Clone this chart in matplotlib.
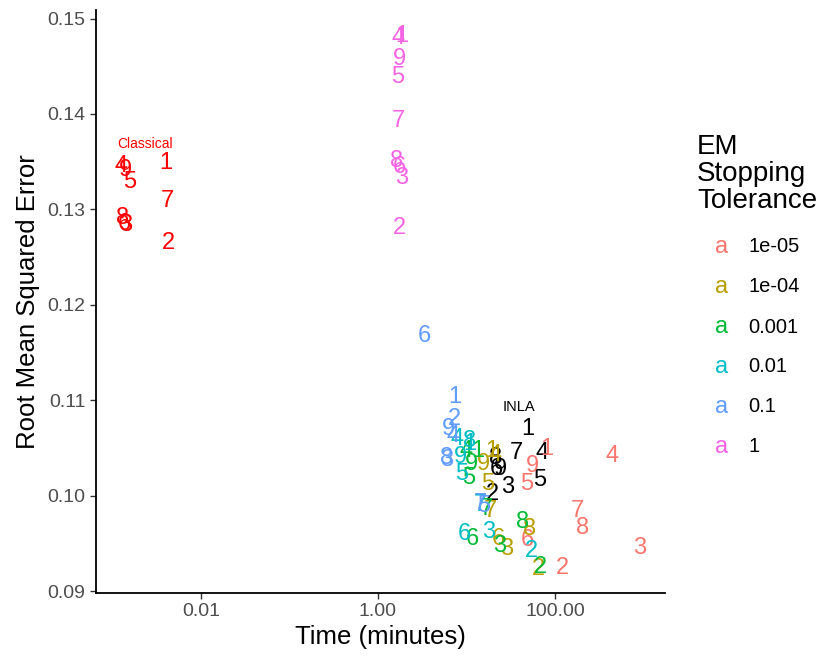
import numpy as np
import matplotlib.pyplot as plt

plt.rcParams['font.family'] = ['Liberation Sans', 'DejaVu Sans']

# run ids drawn as text markers
ids = ['1', '2', '3', '4', '5', '6', '7', '8', '9']

# time (minutes) and RMSE for each method / EM tolerance
classical_time = [0.00402, 0.00424, 0.00142, 0.00125, 0.00158, 0.00135, 0.00413, 0.00131, 0.00142]
classical_rmse = [0.1349, 0.1265, 0.1284, 0.1345, 0.1329, 0.1285, 0.1309, 0.1291, 0.1341]

inla_time = [49.5, 19.9, 29.4, 71.3, 67.7, 21.5, 36.3, 21.5, 23.9]
inla_rmse = [0.1070, 0.1002, 0.1009, 0.1045, 0.1016, 0.1028, 0.1045, 0.1040, 0.1028]

tol_labels = ['1e-05', '1e-04', '0.001', '0.01', '0.1', '1']
tol_colors = ['#F8766D', '#B79F00', '#00BA38', '#00BFC4', '#619CFF', '#F564E3']

em_time = {
    '1e-05': [81.2, 120.0, 913, 441, 48.3, 48.3, 177, 207, 55.0],
    '1e-04': [19.4, 64.3, 28.7, 21.0, 17.5, 22.7, 18.4, 52.2, 15.4],
    '0.001': [13.5, 67.7, 23.9, 9.87, 10.7, 11.8, 17.0, 43.5, 11.5],
    '0.01':  [10.95, 53.6, 18.0, 7.81, 8.90, 9.37, 14.2, 10.95, 8.45],
    '0.1':   [7.41, 7.41, 6.02, 7.04, 15.8, 3.31, 14.2, 6.02, 6.18],
    '1':     [1.87, 1.77, 1.87, 1.68, 1.68, 1.73, 1.68, 1.64, 1.77],
}
em_rmse = {
    '1e-05': [0.1049, 0.0924, 0.0945, 0.1042, 0.1012, 0.0954, 0.0984, 0.0966, 0.1031],
    '1e-04': [0.1047, 0.0923, 0.0944, 0.1043, 0.1012, 0.0955, 0.0984, 0.0965, 0.1033],
    '0.001': [0.1047, 0.0925, 0.0947, 0.1047, 0.1019, 0.0955, 0.0986, 0.0972, 0.1033],
    '0.01':  [0.1054, 0.0942, 0.0962, 0.1059, 0.1023, 0.0960, 0.0990, 0.1057, 0.1041],
    '0.1':   [0.1103, 0.1080, 0.1037, 0.1063, 0.0989, 0.1167, 0.0991, 0.1040, 0.1070],
    '1':     [0.1482, 0.1281, 0.1333, 0.1480, 0.1439, 0.1344, 0.1393, 0.1351, 0.1458],
}

fig = plt.figure(figsize=(8.23, 6.62), dpi=100)
ax = fig.add_axes([0.1166, 0.1042, 0.6914, 0.8808])
ax.set_xscale('log')
ax.set_xlim(10 ** -3.186, 10 ** 3.243)
ax.set_ylim(0.0898, 0.1509)

num_size = 17

def draw_ids(times, rmses, color):
    for lab, t, r in zip(ids, times, rmses):
        ax.text(t, r, lab, color=color, fontsize=num_size, ha='center', va='center')

draw_ids(classical_time, classical_rmse, '#FF0000')
draw_ids(inla_time, inla_rmse, 'black')
for tol, col in zip(tol_labels, tol_colors):
    draw_ids(em_time[tol], em_rmse[tol], col)

ax.text(0.00233, 0.1369, 'Classical', color='#FF0000', fontsize=10, ha='center', va='center')
ax.text(39.2, 0.1093, 'INLA', color='black', fontsize=10.5, ha='center', va='center')

# axes styling
for side in ['top', 'right']:
    ax.spines[side].set_visible(False)
for side in ['left', 'bottom']:
    ax.spines[side].set_linewidth(1.3)
ax.set_xticks([0.01, 1, 100])
ax.set_xticklabels(['0.01', '1.00', '100.00'])
ax.xaxis.set_minor_locator(plt.NullLocator())
ax.set_yticks([0.09, 0.10, 0.11, 0.12, 0.13, 0.14, 0.15])
ax.set_yticklabels(['%.2f' % v for v in [0.09, 0.10, 0.11, 0.12, 0.13, 0.14, 0.15]])
ax.tick_params(axis='both', colors='#333333', labelcolor='#4D4D4D', labelsize=14,
               length=4, width=1)
ax.set_xlabel('Time (minutes)', fontsize=18.5, labelpad=3)
ax.set_ylabel('Root Mean Squared Error', fontsize=18.5, labelpad=5)

# legend drawn by hand
fig.text(697 / 823, 1 - 134 / 662, 'EM\nStopping\nTolerance', fontsize=20,
         ha='left', va='top', linespacing=1.05)
for i, (tol, col) in enumerate(zip(tol_labels, tol_colors)):
    y = 1 - (247 + 40 * i) / 662
    fig.text(722 / 823, y, 'a', color=col, fontsize=17, ha='center', va='center')
    fig.text(748 / 823, y, tol, color='black', fontsize=14.5, ha='left', va='center')

fig.savefig('out.png', dpi=100)
